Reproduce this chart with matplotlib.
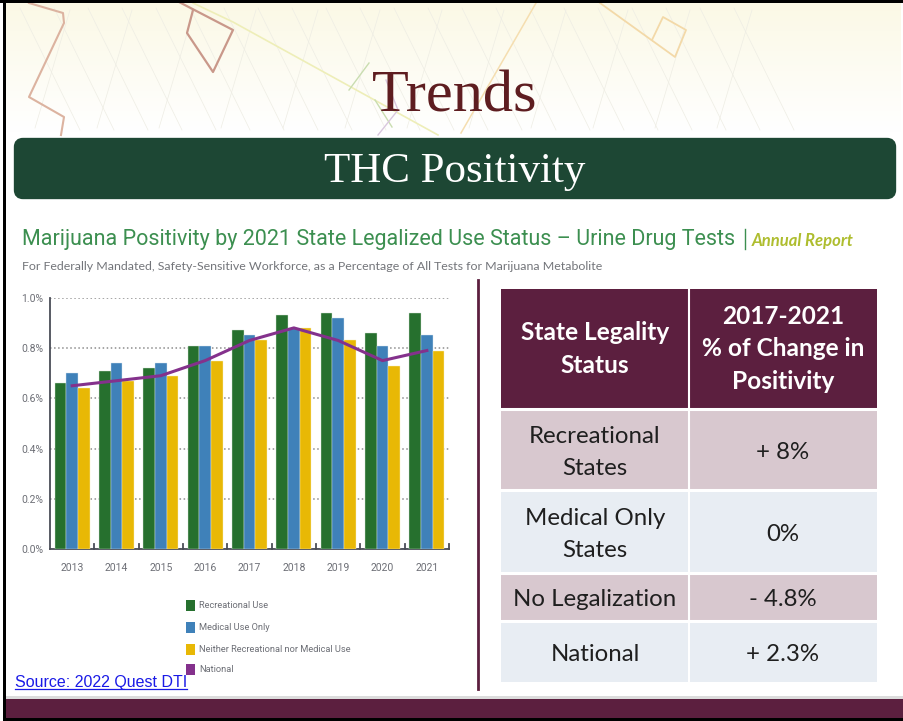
import numpy as np
import matplotlib
matplotlib.use('Agg')
import matplotlib.pyplot as plt
from matplotlib.patches import FancyBboxPatch, Rectangle

W, H = 904, 721

years = ['2013', '2014', '2015', '2016', '2017', '2018', '2019', '2020', '2021']
recreational = [0.66, 0.71, 0.72, 0.81, 0.87, 0.93, 0.94, 0.86, 0.94]
medical = [0.70, 0.74, 0.74, 0.81, 0.85, 0.88, 0.92, 0.81, 0.85]
neither = [0.64, 0.67, 0.69, 0.75, 0.83, 0.88, 0.83, 0.73, 0.79]
national = [0.65, 0.67, 0.69, 0.75, 0.83, 0.88, 0.83, 0.75, 0.79]
yticks = [0.0, 0.2, 0.4, 0.6, 0.8, 1.0]
legend_labels = ['Recreational Use', 'Medical Use Only', 'Neither Recreational nor Medical Use', 'National']

table_head = ['State Legality\nStatus', '2017-2021\n% of Change in\nPositivity']
table_status = ['Recreational\nStates', 'Medical Only\nStates', 'No Legalization', 'National']
table_change = ['+ 8%', '0%', '- 4.8%', '+ 2.3%']

GREEN, BLUE, YELLOW, PURPLE = '#26702e', '#3f81b9', '#e8b805', '#84318c'
MAROON = '#5c1f3f'
GREY = '#6d6f76'

fig = plt.figure(figsize=(W / 100, H / 100), dpi=100)
bg = fig.add_axes([0, 0, 1, 1])

# cream fade behind the header
grad = np.linspace(0, 1, 130)[:, None]
cream = np.array([0.985, 0.975, 0.90])
img = cream[None, None, :] * (1 - grad[..., None]) + grad[..., None]
bg.imshow(img, extent=(3, 901, 132, 3), aspect='auto', zorder=0)
bg.set_xlim(0, W)
bg.set_ylim(H, 0)
bg.axis('off')

# map lines, faint streets first
for x0 in range(20, 760, 34):
    bg.plot([x0, x0 + 60], [8, 130], color='#eeede4', lw=0.5, zorder=1)
for x0 in range(70, 760, 62):
    bg.plot([x0, x0 - 35], [10, 128], color='#eeede4', lw=0.5, zorder=1)
roads = [
    ([29, 63, 64, 29, 64, 61], [3, 13, 23, 97, 117, 135], '#dcb3a0', 1.5),
    ([179, 233, 213, 187, 193], [2, 30, 72, 33, 10], '#c9988a', 1.6),
    ([193, 233, 438], [3, 22, 135], '#eeeeb8', 1.2),
    ([600, 675, 686, 663, 652], [3, 57, 30, 17, 40], '#f3d9a8', 1.3),
    ([536, 513, 461], [3, 43, 133], '#f5deb0', 1.1),
    ([369, 349], [63, 90], '#c9ddb0', 1.0),
    ([375, 392], [100, 127], '#c9ddb0', 1.0),
    ([386, 398, 378], [80, 110, 135], '#d9c7de', 1.0),
]
for xs, ys, col, lw in roads:
    bg.plot(xs, ys, color=col, lw=lw, zorder=1)

# slide frame and footer
bg.add_patch(Rectangle((3, 696), W - 3, 4, fc='#dcdcdc', ec='none', zorder=2))
bg.add_patch(Rectangle((3, 699), W - 3, 19, fc=MAROON, ec='none', zorder=3))
bg.add_patch(Rectangle((3, 718), W - 3, 3, fc='black', ec='none', zorder=6))
bg.add_patch(Rectangle((0, 0), W, 3, fc='black', ec='none', zorder=6))
bg.add_patch(Rectangle((3, 0), 3, H, fc='black', ec='none', zorder=6))

bg.text(455, 98, 'Trends', family='Liberation Serif', fontsize=43.5, color='#5e1d20',
        ha='center', va='center', zorder=4)
bg.add_patch(FancyBboxPatch((18, 142), 874, 53, boxstyle='round,pad=0,rounding_size=5', mutation_aspect=1,
                            fc='#1d4734', ec='#1d4734', lw=6, zorder=3))
bg.text(455, 172, 'THC Positivity', family='Liberation Serif', fontsize=31, color='white',
        ha='center', va='center', zorder=4)

bg.text(22, 239, 'Marijuana Positivity by 2021 State Legalized Use Status \u2013 Urine Drug Tests',
        family='Roboto', fontsize=15.5, color='#3c8f50', ha='left', va='center')
bg.plot([745, 745], [229, 249], color='#3c8f50', lw=1)
bg.text(752, 241, 'Annual Report', family='Lato', fontsize=12, color='#aebd2e', style='italic',
        weight='bold', ha='left', va='center')
bg.text(22, 266, 'For Federally Mandated, Safety-Sensitive Workforce, as a Percentage of All Tests for Marijuana Metabolite',
        family='Lato', fontsize=8.95, color='#73757a', ha='left', va='center')

# divider
bg.plot([478.5, 478.5], [280, 689], color=MAROON, lw=2)

# chart
ax = fig.add_axes([50 / W, 1 - 549.3 / H, 399 / W, 251.6 / H])
x = np.arange(len(years))
bw = 0.265
ax.bar(x - bw, recreational, bw, color=GREEN, edgecolor='#d5e3d6', lw=0.3, zorder=3)
ax.bar(x, medical, bw, color=BLUE, edgecolor='#d5e3ee', lw=0.3, zorder=3)
ax.bar(x + bw, neither, bw, color=YELLOW, edgecolor='#f8edc0', lw=0.3, zorder=3)
ax.plot(x, national, color=PURPLE, lw=2.2, zorder=4)
ax.set_xlim(-0.5, 8.5)
ax.set_ylim(0, 1.0)
ax.set_yticks(yticks)
ax.set_yticklabels([f'{v:.1f}%' for v in yticks], family='Roboto', fontsize=7.5, color=GREY)
ax.set_xticks(x)
ax.set_xticklabels(years, family='Roboto', fontsize=7.5, color=GREY)
ax.tick_params(axis='x', length=0, pad=10)
ax.tick_params(axis='y', length=0, pad=5)
for edge in np.arange(0.5, 9, 1):
    ax.plot([edge, edge], [0, 0.022], color='#4a4d57', lw=1.3, zorder=5, clip_on=False)
ax.grid(axis='y', color='#8d8d8d', ls=':', lw=1.1, zorder=1)
ax.spines[['top', 'right']].set_visible(False)
ax.spines[['left', 'bottom']].set_color('#4a4d57')
ax.spines[['left', 'bottom']].set_linewidth(1.3)

# legend
for label, col, y in zip(legend_labels, [GREEN, BLUE, YELLOW, PURPLE], [605.5, 627, 649, 669]):
    bg.add_patch(Rectangle((186, y - 5.5), 9, 11, fc=col, ec='none', zorder=4))
    bg.text(199, y, label, family='Roboto', fontsize=6.65, color=GREY, ha='left', va='center', zorder=7)

bg.text(15, 682, 'Source: 2022 Quest DTI', family='Liberation Sans', fontsize=11.5, color='#1a1ae6',
        ha='left', va='center', zorder=8)
bg.plot([15, 187], [689, 689], color='#1a1ae6', lw=0.9, zorder=8)

# table
col_x = [501, 689, 877]
row_y = [289, 409, 490, 573, 621, 682]
fills = ['#d8c8cf', '#e8edf3', '#d8c8cf', '#e8edf3']
bg.add_patch(Rectangle((col_x[0], row_y[0]), col_x[2] - col_x[0], row_y[1] - row_y[0], fc=MAROON, ec='none', zorder=3))
for j, head in enumerate(table_head):
    bg.text((col_x[j] + col_x[j + 1]) / 2, (row_y[0] + row_y[1]) / 2, head, family='Lato', weight='bold',
            fontsize=17.6, color='white', ha='center', va='center', linespacing=1.5, zorder=5)
for i in range(4):
    y0, y1 = row_y[i + 1], row_y[i + 2]
    bg.add_patch(Rectangle((col_x[0], y0), col_x[2] - col_x[0], y1 - y0, fc=fills[i], ec='none', zorder=3))
    bg.text((col_x[0] + col_x[1]) / 2, (y0 + y1) / 2 + 3, table_status[i], family='Lato', fontsize=17.3,
            color='#1f1f1f', ha='center', va='center', linespacing=1.7, zorder=5)
    bg.text((col_x[1] + col_x[2]) / 2, (y0 + y1) / 2 + 3, table_change[i], family='Lato', fontsize=17.3,
            color='#1f1f1f', ha='center', va='center', zorder=5)
    bg.plot([col_x[0], col_x[2]], [y0, y0], color='white', lw=2.2, zorder=4)
bg.plot([col_x[1], col_x[1]], [row_y[0], row_y[-1]], color='white', lw=1.5, zorder=4)

fig.savefig('out.png', dpi=100)
